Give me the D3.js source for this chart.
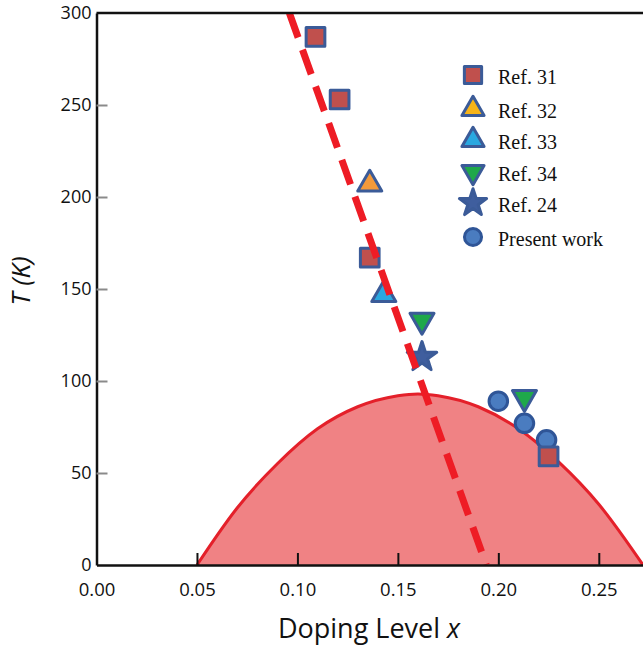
<!DOCTYPE html>
<html>
<head>
<meta charset="utf-8">
<script src="https://cdn.jsdelivr.net/npm/d3@7"></script>
<style>
  body { margin: 0; background: #fff; }
  svg { display: block; }
</style>
</head>
<body>
<svg id="chart" width="643" height="648"></svg>
<script>
// values
const ref31X = [0.109, 0.121, 0.136, 0.225];
const ref31T = [287, 253, 167, 59];
const ref32X = [0.136];
const ref32T = [207];
const ref33X = [0.143];
const ref33T = [147];
const ref34X = [0.162, 0.213];
const ref34T = [133, 91];
const ref24X = [0.162];
const ref24T = [113];
const presentX = [0.200, 0.213, 0.224];
const presentT = [89, 77, 68];

// superconducting dome outline
const domeX = [0.05, 0.07, 0.09, 0.11, 0.13, 0.15, 0.16, 0.17, 0.19, 0.21, 0.23, 0.25, 0.272];
const domeT = [0, 31, 55, 74, 86, 92, 93, 92, 86, 74, 56, 33, 0];

// dashed guide line
const dashX = [0.096, 0.194];
const dashT = [300, 0];

const xTicks = [0, 0.05, 0.10, 0.15, 0.20, 0.25];
const yTicks = [0, 50, 100, 150, 200, 250, 300];
const legendLabels = ['Ref. 31', 'Ref. 32', 'Ref. 33', 'Ref. 34', 'Ref. 24', 'Present work'];

const margin = {left: 96.5, right: 643, top: 13, bottom: 565};

const svg = d3.select('#chart');

const x = d3.scaleLinear().domain([0, 0.272]).range([margin.left, margin.right]);
const y = d3.scaleLinear().domain([0, 300]).range([margin.bottom, margin.top]);

const zip = (xs, ts) => xs.map((v, i) => [v, ts[i]]);

svg.append('defs').append('clipPath').attr('id', 'plot')
  .append('rect').attr('x', margin.left).attr('y', margin.top)
  .attr('width', margin.right - margin.left).attr('height', margin.bottom - margin.top);

// dome
const dome = zip(domeX, domeT);
svg.append('path')
  .datum(dome)
  .attr('clip-path', 'url(#plot)')
  .attr('d', d3.area().x(d => x(d[0])).y0(y(0)).y1(d => y(d[1])).curve(d3.curveMonotoneX))
  .attr('fill', '#f08284');
svg.append('path')
  .datum(dome)
  .attr('clip-path', 'url(#plot)')
  .attr('d', d3.line().x(d => x(d[0])).y(d => y(d[1])).curve(d3.curveMonotoneX))
  .attr('fill', 'none')
  .attr('stroke', '#e4202a')
  .attr('stroke-width', 3);

// marker styles
const blue = '#3b5b98';
const series = [
  {xs: ref31X, ts: ref31T, type: d3.symbolSquare, size: 350, rot: 0, fill: '#c0504d'},
  {xs: ref32X, ts: ref32T, type: d3.symbolTriangle, size: 250, rot: 0, fill: '#f39a3a'},
  {xs: ref33X, ts: ref33T, type: d3.symbolTriangle, size: 250, rot: 0, fill: '#2aa8e0'},
  {xs: ref34X, ts: ref34T, type: d3.symbolTriangle, size: 250, rot: 180, fill: '#1fa84a'},
  {xs: ref24X, ts: ref24T, type: d3.symbolStar, size: 270, rot: 0, fill: '#3f5e9e'},
  {xs: presentX, ts: presentT, type: d3.symbolCircle, size: 270, rot: 0, fill: '#4a7cc0'}
];
const legendFills = ['#c0504d', '#f7b418', '#2aa8e0', '#1fa84a', '#3f5e9e', '#4a7cc0'];

// draw order so overlaps look like the figure
const order = [5, 3, 4, 1, 2, 0];
order.forEach(i => {
  const s = series[i];
  svg.append('g').selectAll('path')
    .data(zip(s.xs, s.ts))
    .join('path')
      .attr('transform', d => `translate(${x(d[0])},${y(d[1])}) rotate(${s.rot})`)
      .attr('d', d3.symbol(s.type, s.size))
      .attr('fill', s.fill)
      .attr('stroke', i === 5 ? '#2f5597' : blue)
      .attr('stroke-width', 3)
      .attr('stroke-linejoin', 'round');
});

// dashed line on top
svg.append('path')
  .datum(zip(dashX, dashT))
  .attr('clip-path', 'url(#plot)')
  .attr('d', d3.line().x(d => x(d[0])).y(d => y(d[1])))
  .attr('fill', 'none')
  .attr('stroke', '#ee1c25')
  .attr('stroke-width', 7)
  .attr('stroke-dasharray', '26,13');

// axes
const xAxis = svg.append('g')
  .attr('transform', `translate(0,${margin.bottom})`)
  .call(d3.axisBottom(x).tickValues(xTicks).tickFormat(d3.format('.2f'))
    .tickSizeInner(-12).tickSizeOuter(0).tickPadding(18));
xAxis.select('.domain').attr('stroke', '#111').attr('stroke-width', 2.5);
xAxis.selectAll('.tick line').attr('stroke', '#111').attr('stroke-width', 2)
  .filter(d => d === 0).remove();
xAxis.selectAll('text').attr('font-family', 'Open Sans').attr('font-size', 18.5).attr('fill', '#111');

const yAxis = svg.append('g')
  .attr('transform', `translate(${margin.left},0)`)
  .call(d3.axisLeft(y).tickValues(yTicks).tickSizeInner(-11).tickSizeOuter(0).tickPadding(5));
yAxis.select('.domain').attr('stroke', '#111').attr('stroke-width', 2.5);
yAxis.selectAll('.tick line').attr('stroke', '#8a8a8a').attr('stroke-width', 2)
  .filter(d => d === 0 || d === 300).remove();
yAxis.selectAll('text').attr('font-family', 'Open Sans').attr('font-size', 18).attr('fill', '#111');

// top border
svg.append('line')
  .attr('x1', margin.left).attr('x2', margin.right).attr('y1', y(300)).attr('y2', y(300))
  .attr('stroke', '#111').attr('stroke-width', 2.5);

// axis titles
svg.append('text')
  .attr('x', 369).attr('y', 638)
  .attr('text-anchor', 'middle')
  .attr('font-family', 'Open Sans').attr('font-size', 27).attr('fill', '#111')
  .text('Doping Level ')
  .append('tspan').attr('font-style', 'italic').text('x');

svg.append('text')
  .attr('transform', 'translate(30,281) rotate(-90)')
  .attr('text-anchor', 'middle')
  .attr('font-family', 'Open Sans').attr('font-size', 26).attr('font-style', 'italic').attr('fill', '#111')
  .text('T (K)');

// legend
const legendY = [75, 109, 140, 172, 203, 237];
const legend = svg.append('g');
series.forEach((s, i) => {
  legend.append('path')
    .attr('transform', `translate(473,${legendY[i]}) rotate(${s.rot})`)
    .attr('d', d3.symbol(s.type, s.size * 0.85))
    .attr('fill', legendFills[i])
    .attr('stroke', i === 5 ? '#2f5597' : blue)
    .attr('stroke-width', 3)
    .attr('stroke-linejoin', 'round');
  legend.append('text')
    .attr('x', 498).attr('y', legendY[i] + 9)
    .attr('font-family', 'Liberation Serif').attr('font-size', 20).attr('fill', '#111')
    .text(legendLabels[i]);
});
</script>
</body>
</html>
